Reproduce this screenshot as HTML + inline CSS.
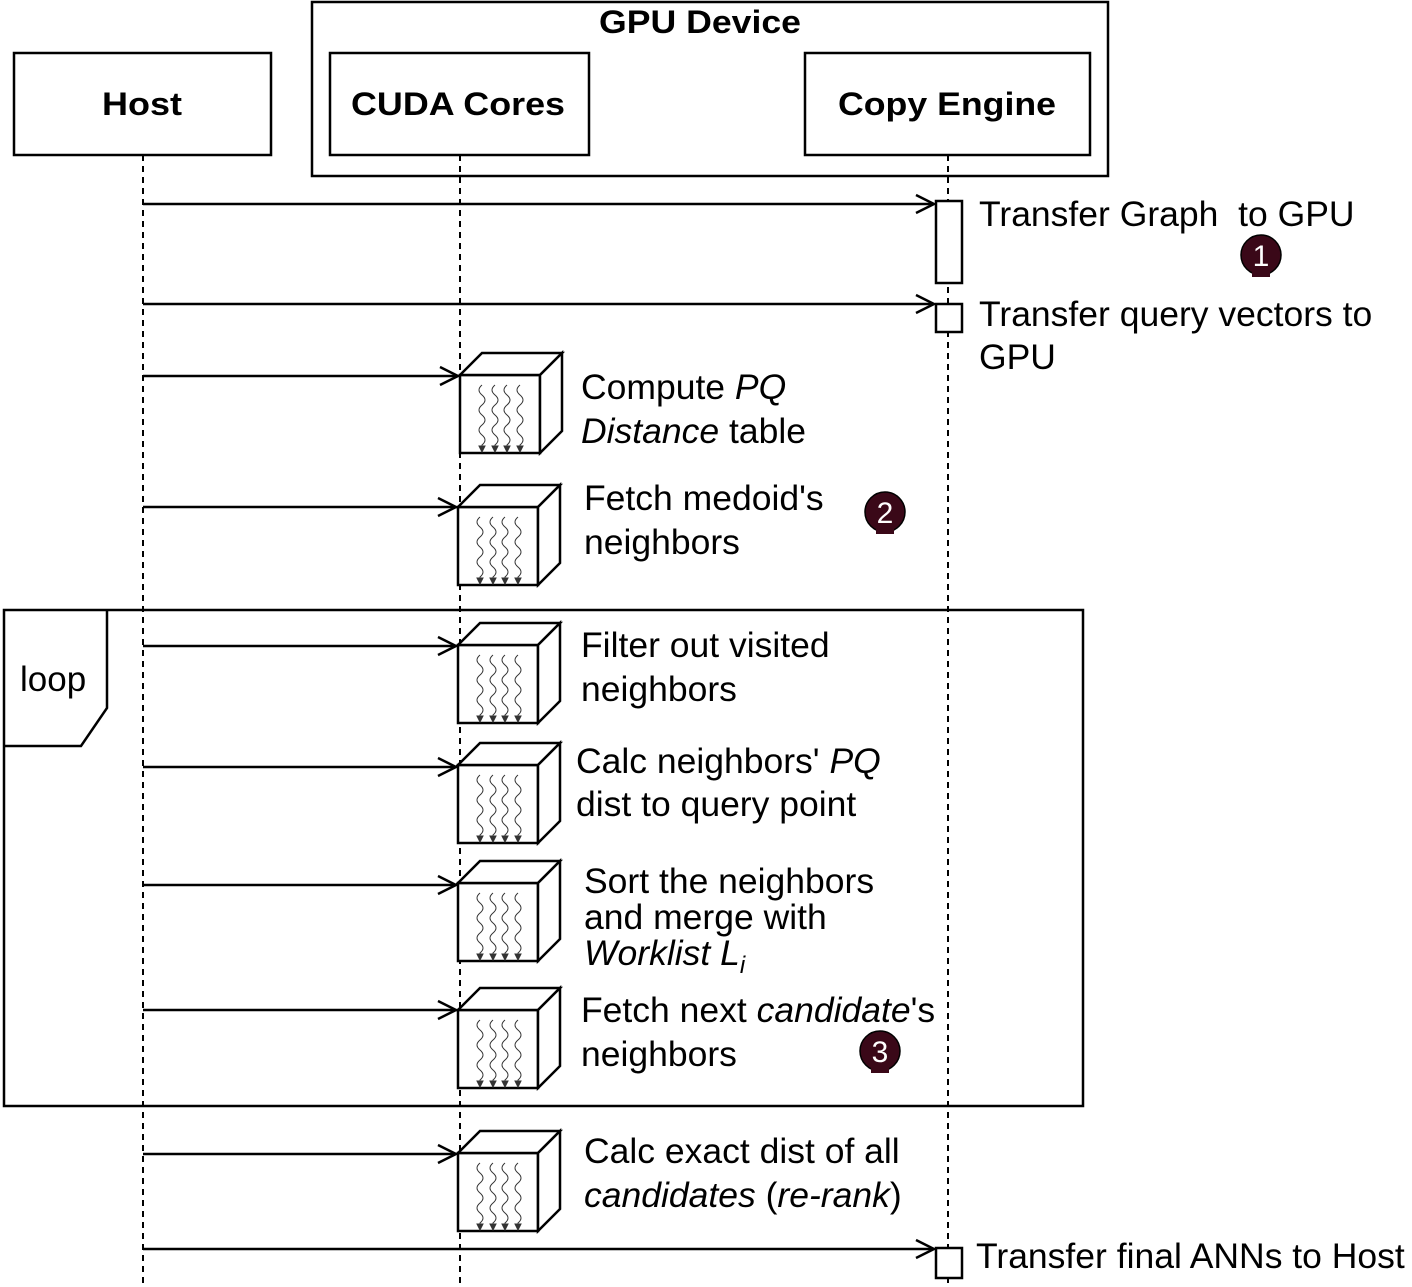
<!DOCTYPE html>
<html><head><meta charset="utf-8"><style>
html,body{margin:0;padding:0;background:#fff;}
svg{display:block;font-family:"Liberation Sans",sans-serif;}
</style></head><body>
<svg width="1412" height="1287" viewBox="0 0 1412 1287" xmlns="http://www.w3.org/2000/svg">
<defs>
<g id="sq" fill="none" stroke="#333" stroke-width="1">
<path d="M0,0 q-6,5 0,10 q6,5 0,10 q-6,5 0,10 q6,5 0,10 q-6,5 0,10 q6,5 0,10 l0,6"/>
<path d="M-3,61 l3,6 l3,-6 z" fill="#333"/>
</g>
<g id="cube" fill="#fff" stroke="#000" stroke-width="2.5">
<rect x="0" y="0" width="80" height="78"/>
<polygon points="0,0 22,-22 102,-22 80,0"/>
<polygon points="80,0 102,-22 102,56 80,78"/>
<use href="#sq" x="22" y="10"/>
<use href="#sq" x="35" y="10"/>
<use href="#sq" x="47" y="10"/>
<use href="#sq" x="60" y="10"/>
</g>
<g id="badge"><circle r="20" fill="#3a0818" stroke="#000" stroke-width="1.5"/><rect x="-9" y="14" width="18" height="8" fill="#3a0818"/></g>
</defs>

<rect x="312" y="2" width="796" height="174" fill="none" stroke="#000" stroke-width="2.5"/>
<text x="700" y="33" text-anchor="middle" font-weight="bold" font-size="32" textLength="202" lengthAdjust="spacingAndGlyphs">GPU Device</text>

<rect x="14" y="53" width="257" height="102" fill="#fff" stroke="#000" stroke-width="2.5"/>
<text x="142" y="115" text-anchor="middle" font-weight="bold" font-size="32" textLength="80" lengthAdjust="spacingAndGlyphs">Host</text>
<rect x="330" y="53" width="259" height="102" fill="#fff" stroke="#000" stroke-width="2.5"/>
<text x="458" y="115" text-anchor="middle" font-weight="bold" font-size="32" textLength="214" lengthAdjust="spacingAndGlyphs">CUDA Cores</text>
<rect x="805" y="53" width="285" height="102" fill="#fff" stroke="#000" stroke-width="2.5"/>
<text x="947" y="115" text-anchor="middle" font-weight="bold" font-size="32" textLength="218" lengthAdjust="spacingAndGlyphs">Copy Engine</text>

<g stroke="#000" stroke-width="2" stroke-dasharray="6,5">
<line x1="143" y1="155" x2="143" y2="1287"/>
<line x1="460" y1="155" x2="460" y2="1287"/>
<line x1="948" y1="155" x2="948" y2="1287"/>
</g>

<rect x="4" y="610" width="1079" height="496" fill="none" stroke="#000" stroke-width="2.5"/>
<polyline points="4,746 81,746 107,708 107,610" fill="none" stroke="#000" stroke-width="2.5"/>
<text x="20" y="691" font-size="35">loop</text>

<g fill="#fff" stroke="#000" stroke-width="2.5">
<rect x="936" y="201" width="26" height="82"/>
<rect x="936" y="304" width="26" height="28"/>
<rect x="936" y="1248" width="26" height="30"/>
</g>

<use href="#cube" x="460" y="375"/>
<use href="#cube" x="458" y="507"/>
<use href="#cube" x="458" y="645"/>
<use href="#cube" x="458" y="765"/>
<use href="#cube" x="458" y="883"/>
<use href="#cube" x="458" y="1010"/>
<use href="#cube" x="458" y="1153"/>

<g stroke="#000" stroke-width="2.5" fill="none">
<line x1="143" y1="204" x2="934" y2="204"/><polyline points="916,195 934,204 916,213"/>
<line x1="143" y1="304" x2="934" y2="304"/><polyline points="916,295 934,304 916,313"/>
<line x1="143" y1="376" x2="458" y2="376"/><polyline points="440,367 458,376 440,385"/>
<line x1="143" y1="507" x2="456" y2="507"/><polyline points="438,498 456,507 438,516"/>
<line x1="143" y1="646" x2="456" y2="646"/><polyline points="438,637 456,646 438,655"/>
<line x1="143" y1="767" x2="456" y2="767"/><polyline points="438,758 456,767 438,776"/>
<line x1="143" y1="885" x2="456" y2="885"/><polyline points="438,876 456,885 438,894"/>
<line x1="143" y1="1010" x2="456" y2="1010"/><polyline points="438,1001 456,1010 438,1019"/>
<line x1="143" y1="1154" x2="456" y2="1154"/><polyline points="438,1145 456,1154 438,1163"/>
<line x1="143" y1="1249" x2="934" y2="1249"/><polyline points="916,1240 934,1249 916,1258"/>
</g>

<g font-size="35.5" fill="#000">
<text x="979" y="226">Transfer Graph&#160; to GPU</text>
<text x="979" y="326">Transfer query vectors to</text>
<text x="979" y="369">GPU</text>
<text x="581" y="399">Compute <tspan font-style="italic">PQ</tspan></text>
<text x="581" y="443"><tspan font-style="italic">Distance</tspan> table</text>
<text x="584" y="510">Fetch medoid's</text>
<text x="584" y="554">neighbors</text>
<text x="581" y="657">Filter out visited</text>
<text x="581" y="701">neighbors</text>
<text x="576" y="773">Calc neighbors' <tspan font-style="italic">PQ</tspan></text>
<text x="576" y="816">dist to query point</text>
<text x="584" y="893">Sort the neighbors</text>
<text x="584" y="929">and merge with</text>
<text x="584" y="965" font-style="italic">Worklist L<tspan font-size="24" dy="8">i</tspan></text>
<text x="581" y="1022">Fetch next <tspan font-style="italic">candidate</tspan>'s</text>
<text x="581" y="1066">neighbors</text>
<text x="584" y="1163">Calc exact dist of all</text>
<text x="584" y="1207"><tspan font-style="italic">candidates</tspan> (<tspan font-style="italic">re-rank</tspan>)</text>
<text x="976" y="1268">Transfer final ANNs to Host</text>
</g>

<use href="#badge" x="1261" y="255"/>
<text x="1261" y="266" text-anchor="middle" font-size="30" fill="#fff">1</text>
<use href="#badge" x="885" y="512"/>
<text x="885" y="523" text-anchor="middle" font-size="30" fill="#fff">2</text>
<use href="#badge" x="880" y="1051"/>
<text x="880" y="1062" text-anchor="middle" font-size="30" fill="#fff">3</text>
</svg>
</body></html>
